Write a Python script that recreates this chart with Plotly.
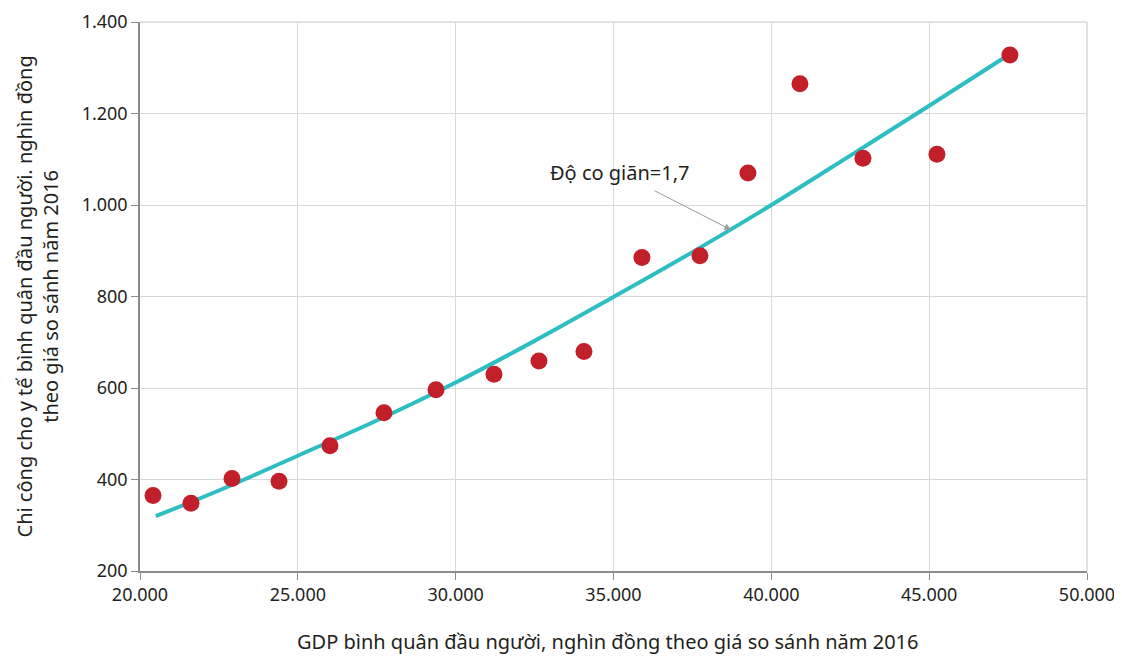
import plotly.graph_objects as go

# Observed data points
gdp = [20412, 21615, 22914, 24403, 26018, 27729, 29376, 31213, 32639, 34064,
       35901, 37738, 39259, 40906, 42902, 45246, 47558]
health = [365, 348, 402, 396, 474, 546, 596, 630, 659, 680,
          885, 889, 1070, 1265, 1102, 1111, 1328]

# Fitted curve
curve_x = [20500, 22500, 25000, 27500, 30000, 32500, 35000, 37500, 40000, 42500, 45000, 47560]
curve_y = [320, 376, 452, 529, 612, 703, 799, 897, 1000, 1108, 1217, 1330]

x_ticks = [20000, 25000, 30000, 35000, 40000, 45000, 50000]
x_labels = ["20.000", "25.000", "30.000", "35.000", "40.000", "45.000", "50.000"]
y_ticks = [200, 400, 600, 800, 1000, 1200, 1400]
y_labels = ["200", "400", "600", "800", "1.000", "1.200", "1.400"]

x_title = "GDP bình quân đầu người, nghìn đồng theo giá so sánh năm 2016"
y_title = "Chi công cho y tế bình quân đầu người. nghìn đồng<br>theo giá so sánh năm 2016"
note = "Độ co giãn=1,7"

FONT = "Noto Sans"
TXT = "#231F20"
AXC = "#8c8c8c"
GRID = "#d9d9d9"

fig = go.Figure()
fig.add_trace(go.Scatter(x=curve_x, y=curve_y, mode="lines",
                         line=dict(color="#2DBEC3", width=4, shape="spline"),
                         hoverinfo="skip", showlegend=False))
fig.add_trace(go.Scatter(x=gdp, y=health, mode="markers",
                         marker=dict(color="#C1202A", size=17),
                         showlegend=False))

fig.add_annotation(x=35200, y=1072, text=note, showarrow=False,
                   font=dict(family=FONT, size=20, color=TXT))
fig.add_annotation(x=38720, y=946, ax=36250, ay=1033, axref="x", ayref="y",
                   text="", showarrow=True, arrowhead=2, arrowsize=1.3,
                   arrowwidth=1, arrowcolor="#9a9a9a")

# axis titles
fig.add_annotation(xref="paper", yref="paper", x=0, y=0.5, xanchor="center", yanchor="middle",
                   xshift=-103, textangle=-90, text=y_title, showarrow=False,
                   font=dict(family=FONT, size=20, color=TXT))
fig.add_annotation(xref="paper", yref="paper", x=0.5, y=0, xanchor="center", yanchor="middle",
                   xshift=-6, yshift=-70, text=x_title, showarrow=False,
                   font=dict(family=FONT, size=20, color=TXT))

fig.update_layout(
    width=1114, height=650,
    margin=dict(l=132, r=35, t=14, b=87),
    plot_bgcolor="white", paper_bgcolor="white",
    font=dict(family=FONT, size=17, color=TXT),
)
fig.update_xaxes(range=[20000, 50000], tickvals=x_ticks, ticktext=x_labels,
                 showgrid=True, gridcolor=GRID, gridwidth=1,
                 showline=True, linecolor=AXC, linewidth=1.5,
                 ticks="outside", ticklen=7, tickcolor=AXC,
                 tickfont=dict(size=18), zeroline=False, automargin=False,
                 ticklabeloverflow="allow")
fig.update_yaxes(range=[200, 1400], tickvals=y_ticks, ticktext=y_labels,
                 showgrid=True, gridcolor=GRID, gridwidth=1,
                 showline=True, linecolor=AXC, linewidth=1.5,
                 ticks="outside", ticklen=7, tickcolor=AXC,
                 tickfont=dict(size=18), zeroline=False, automargin=False,
                 ticklabeloverflow="allow")
# top and right border gridlines
fig.add_shape(type="line", xref="paper", yref="paper", x0=0, x1=1, y0=1, y1=1,
              line=dict(color=GRID, width=1.5))
fig.add_shape(type="line", xref="paper", yref="paper", x0=1, x1=1, y0=0, y1=1,
              line=dict(color=GRID, width=1.5))

fig.write_html("out.html")
